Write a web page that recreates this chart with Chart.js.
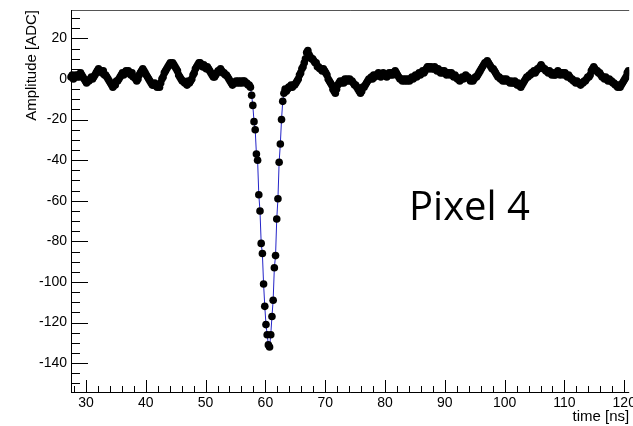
<!DOCTYPE html>
<html>
<head>
<meta charset="utf-8">
<script src="https://cdn.jsdelivr.net/npm/chart.js@4.4.1/dist/chart.umd.min.js"></script>
<style>
  html, body { margin: 0; padding: 0; background: #fff; }
  #wrap { width: 633px; height: 426px; }
</style>
</head>
<body>
<div id="wrap"><canvas id="c" width="633" height="426"></canvas></div>
<script>
// ---- sampling grid (ns) ----
var timeStart = 27.5;
var timeStep  = 0.2;

// ---- amplitude [ADC] ----
var preTrigger = [
  1, 2, 0, 1, 2,  1, 2, 1, 3, 2,  1, 0, -1, -2, -1,  -1, 0, 1, 0, 1,  2, 3, 4, 5, 4,
  4, 3, 4, 2, 2,  1, 0, -1, -2, -3,  -4, -3, -3, -1, -1,  0, 1, 2, 3, 2,  3, 4, 3, 4, 3,
  2, 3, 1, 1, 0,  -1, 0, 2, 3, 4,  5, 4, 3, 2, 1,  0, -1, -2, -3, -3,  -2, -3, -4, -3, -4,
  -2, 0, 1, 3, 4,  5, 6, 7, 8, 7,  8, 7, 6, 5, 4,  2, 1, 0, -1, -1,  -2, -2, -3, -1, -2,
  -1, 0, 2, 3, 5,  6, 7, 8, 8, 7,  6, 7, 6, 5, 6,  5, 4, 3, 2, 1,  1, 2, 3, 4, 4,
  5, 4, 3, 3, 2,  2, 1, 0, -1, -2,  -3, -2, -2, -1, -2,  -1, -2, -1, -2, -1,  -1, -2, -2, -3, -3,
  -4
];

var pulse = [
  -8, -13, -21, -25, -37, -40, -57, -65, -81, -86, -101, -112, -121, -126,
  -131, -132, -126, -117, -109, -93, -87, -69, -59, -41, -32, -20, -11
];

var tail = [
  -7, -5, -6, -5, -4, -4, -3, -4, -3, -3,
  -2, -1, 0, 2, 3, 5, 6, 8, 10, 13,
  14, 12, 11, 10, 10, 9, 8, 8, 6, 6,
  5, 5, 4, 5, 4, 3, 2, 0, -1, -2,
  -3, -5, -6, -7, -5, -3, -2, -1, -2, -1,
  -2, 0, -1, 0, -1, 0, -1, -1, -2, -3,
  -3, -4, -5, -6, -7, -6, -4, -4, -3, -2,
  -1, 0, 0, 1, 0, 2, 1, 2, 2, 3,
  2, 1, 2, 3, 2, 2, 1, 2, 3, 2,
  3, 2, 3, 4, 3, 2, 1, 0, 0, -1,
  0, -1, 0, -1, 0, -1, 0, 1, 0, 1,
  2, 1, 2, 3, 2, 3, 4, 3, 4, 5,
  6, 6, 5, 6, 5, 5, 6, 5, 4, 5,
  4, 3, 4, 3, 4, 3, 2, 3, 3, 2,
  3, 2, 1, 2, 1, 0, 0, -1, 0, 1,
  0, 1, 2, 1, 1, 0, -1, 0, -1, 0,
  1, 1, 2, 3, 4, 5, 6, 7, 8, 8,
  9, 8, 7, 6, 5, 5, 4, 3, 2, 1,
  1, 0, 0, -1, 0, -1, 0, -1, -1, -2,
  -1, -2, -2, -1, -2, -3, -2, -3, -4, -3,
  -2, -1, 0, 1, 1, 2, 2, 3, 3, 4,
  3, 4, 5, 5, 6, 7, 6, 5, 5, 4,
  4, 3, 4, 3, 2, 3, 2, 2, 3, 4,
  3, 2, 3, 3, 2, 3, 2, 1, 2, 1,
  0, 0, -1, -1, -2, -1, -2, -2, -3, -2,
  -2, -1, -1, 0, 1, 1, 2, 4, 5, 6,
  5, 4, 4, 3, 3, 2, 1, 1, 0, 1,
  0, -1, 0, -1, -1, -2, -2, -3, -3, -4,
  -3, -4, -3, -2, -1, 0, 1, 3, 4
];

// ---- axes ----
var xTickValues = [30, 40, 50, 60, 70, 80, 90, 100, 110, 120];
var yTickValues = [-140, -120, -100, -80, -60, -40, -20, 0, 20];
var xMin = 27.5, xMax = 120.83;
var yMin = -154.2, yMax = 34;

var amplitude = preTrigger.concat(pulse, tail);
var points = amplitude.map(function (a, i) {
  return { x: +(timeStart + i * timeStep).toFixed(2), y: a };
});

var axisFont  = { family: "'Liberation Sans', Arial, Helvetica, sans-serif", size: 14 };
var titleFont = { family: "'Liberation Sans', Arial, Helvetica, sans-serif", size: 15 };

// ROOT-style frame with inward major/minor ticks + the "Pixel 4" label
var rootFrame = {
  id: 'rootFrame',
  afterDatasetsDraw: function (chart) {
    var ctx = chart.ctx, a = chart.chartArea;
    var xs = chart.scales.x, ys = chart.scales.y;
    var v, p, len;
    ctx.save();

    ctx.strokeStyle = '#555';
    ctx.lineWidth = 1;
    ctx.beginPath();
    ctx.moveTo(a.left, a.top + 0.5);
    ctx.lineTo(a.right, a.top + 0.5);
    ctx.stroke();

    ctx.strokeStyle = '#000';
    ctx.beginPath();
    ctx.moveTo(a.left + 0.5, a.top);
    ctx.lineTo(a.left + 0.5, a.bottom + 1);
    ctx.moveTo(a.left, a.bottom + 0.5);
    ctx.lineTo(a.right, a.bottom + 0.5);

    for (v = 28; v <= xMax; v += 2) {
      p = Math.round(xs.getPixelForValue(v)) + 0.5;
      len = (v % 10 === 0) ? 12 : 6;
      ctx.moveTo(p, a.bottom);
      ctx.lineTo(p, a.bottom - len);
    }
    for (v = -150; v <= yMax; v += 5) {
      p = Math.round(ys.getPixelForValue(v)) + 0.5;
      len = (v % 20 === 0) ? 17 : 9;
      ctx.moveTo(a.left, p);
      ctx.lineTo(a.left + len, p);
    }
    ctx.stroke();

    ctx.fillStyle = '#000';
    ctx.font = "40px 'Open Sans', 'Noto Sans', sans-serif";
    ctx.textBaseline = 'alphabetic';
    ctx.textAlign = 'left';
    ctx.fillText('Pixel 4', 409, 220);
    ctx.restore();
  }
};

new Chart(document.getElementById('c'), {
  type: 'scatter',
  data: {
    datasets: [{
      label: 'Pixel 4',
      data: points,
      showLine: true,
      borderColor: '#2424c8',
      borderWidth: 1,
      tension: 0,
      pointRadius: 3.8,
      pointHoverRadius: 3.8,
      pointBackgroundColor: '#000',
      pointBorderWidth: 0,
      clip: { left: 4, right: 0, top: 0, bottom: 0 }
    }]
  },
  options: {
    responsive: false,
    animation: false,
    events: [],
    layout: { padding: { top: 10, right: 0, bottom: 0, left: 0 } },
    plugins: { legend: { display: false }, tooltip: { enabled: false } },
    scales: {
      x: {
        type: 'linear',
        min: xMin, max: xMax,
        grid: { display: false, drawTicks: false },
        border: { display: false },
        ticks: { autoSkip: false, maxRotation: 0, padding: 3, color: '#000', font: axisFont, includeBounds: false },
        afterBuildTicks: function (s) { s.ticks = xTickValues.map(function (v) { return { value: v }; }); },
        afterFit: function (s) { s.height = 34; s.paddingLeft = 0; s.paddingRight = 0; },
        title: { display: true, text: 'time [ns]', align: 'end', color: '#000', font: titleFont, padding: { top: 0, bottom: 0 } }
      },
      y: {
        type: 'linear',
        min: yMin, max: yMax,
        grid: { display: false, drawTicks: false },
        border: { display: false },
        ticks: { padding: 4, color: '#000', font: axisFont, includeBounds: false },
        afterBuildTicks: function (s) { s.ticks = yTickValues.map(function (v) { return { value: v }; }); },
        afterFit: function (s) { s.width = 71; s.paddingTop = 0; s.paddingBottom = 0; },
        title: { display: true, text: 'Amplitude [ADC]', align: 'end', color: '#000', font: titleFont, padding: { top: 23, bottom: 0 } }
      }
    }
  },
  plugins: [rootFrame]
});
</script>
</body>
</html>
